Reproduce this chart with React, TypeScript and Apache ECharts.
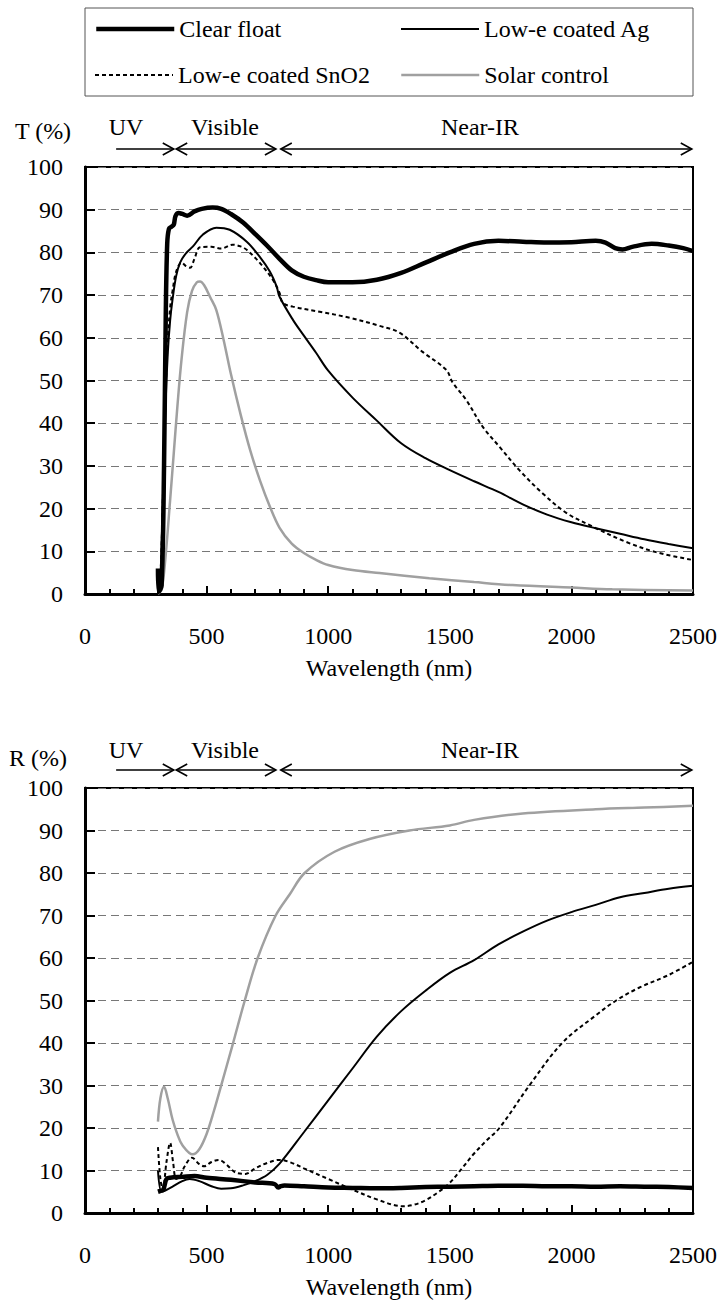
import React, { useEffect, useRef } from "react";
import * as echarts from "echarts";

const FONT = "Liberation Serif";

const NAMES = ["Clear float", "Low-e coated Ag", "Low-e coated SnO2", "Solar control"];

// ---------- Transmittance (top chart) ----------
const T_CLEAR_WL = [300, 303, 315, 325, 332, 338, 345, 355, 365, 372, 385, 400, 420, 450, 480, 525, 560, 600, 650, 700, 750, 800, 850, 900, 950, 1000, 1100, 1200, 1300, 1400, 1500, 1600, 1700, 1800, 1900, 2000, 2100, 2140, 2180, 2210, 2250, 2330, 2400, 2460, 2500];
const T_CLEAR = [6, 0.5, 2, 30, 65, 82, 85.5, 86, 86.5, 88.5, 89.2, 89, 88.6, 89.6, 90.2, 90.5, 90.2, 89, 87, 84.3, 81.5, 78.5, 75.8, 74.3, 73.5, 73, 73, 73.6, 75.2, 77.6, 80, 82, 82.7, 82.5, 82.3, 82.4, 82.7, 82.3, 81, 80.7, 81.3, 82, 81.6, 81, 80.3];

const T_AG_WL = [300, 310, 320, 330, 340, 350, 360, 375, 391, 415, 444, 485, 540, 595, 665, 718, 760, 788, 800, 855, 900, 950, 1000, 1100, 1200, 1300, 1400, 1500, 1600, 1700, 1800, 1900, 2000, 2100, 2200, 2300, 2400, 2500];
const T_AG = [0, 4, 22, 42, 56, 64, 69, 74.5, 77.6, 79.8, 81.4, 84.2, 85.8, 85.3, 82.5, 79, 75.5, 72, 69.6, 64.2, 60.5, 56.5, 52.3, 46, 40.6, 35.3, 31.8, 29, 26.4, 23.9, 21, 18.6, 16.8, 15.4, 14.1, 12.8, 11.7, 10.7];

const T_SNO2_WL = [300, 310, 320, 330, 340, 350, 360, 375, 397, 415, 432, 450, 473, 520, 560, 607, 640, 665, 718, 772, 800, 813, 855, 965, 1088, 1211, 1293, 1388, 1485, 1512, 1567, 1635, 1704, 1786, 1881, 1979, 2087, 2225, 2348, 2496];
const T_SNO2 = [0, 4, 22, 44, 59, 67, 71, 75.5, 77.6, 76.8, 76.4, 78.5, 81.2, 81.3, 80.9, 81.8, 81.4, 80.6, 77.6, 73.6, 70.5, 68.2, 67.3, 66.1, 64.7, 62.8, 61.2, 56.7, 52.5, 49.5, 45.5, 39.2, 34.5, 29, 23.6, 19, 15.8, 12.2, 9.8, 8];

const T_SOLAR_WL = [300, 315, 330, 350, 365, 380, 397, 420, 440, 460, 473, 490, 515, 540, 570, 600, 640, 680, 720, 760, 800, 850, 900, 950, 1000, 1100, 1211, 1416, 1600, 1758, 2000, 2168, 2500];
const T_SOLAR = [0, 1, 8, 22, 33, 44, 55, 66, 71, 73, 73.2, 72.3, 69.5, 66.5, 59.5, 51.5, 42, 33.5, 26.5, 20.5, 15.5, 11.8, 9.6, 8, 6.8, 5.6, 4.9, 3.7, 2.8, 2.1, 1.5, 1.1, 0.8];

// ---------- Reflectance (bottom chart) ----------
const R_CLEAR_WL = [300, 310, 322, 335, 350, 400, 450, 500, 600, 700, 780, 795, 805, 820, 900, 1000, 1100, 1200, 1300, 1400, 1500, 1600, 1700, 1800, 1900, 2000, 2100, 2200, 2300, 2400, 2500];
const R_CLEAR = [5, 5.2, 5.5, 8, 8.3, 8.5, 8.7, 8.3, 7.8, 7.2, 6.8, 6.0, 6.3, 6.5, 6.3, 6.0, 5.9, 5.8, 5.9, 6.1, 6.2, 6.3, 6.4, 6.4, 6.3, 6.3, 6.2, 6.3, 6.2, 6.1, 5.9];

const R_AG_WL = [300, 315, 330, 360, 400, 430, 470, 520, 560, 600, 650, 700, 750, 800, 900, 1000, 1100, 1200, 1300, 1400, 1500, 1600, 1700, 1800, 1900, 2000, 2100, 2200, 2300, 2400, 2500];
const R_AG = [10, 5, 5.3, 6.2, 7.5, 8, 7.5, 6.3, 5.7, 5.8, 6.5, 7.5, 9, 11.6, 19, 26.5, 34, 41.5, 47.5, 52.3, 56.5, 59.5, 63.2, 66.2, 68.8, 70.8, 72.5, 74.3, 75.3, 76.3, 77];

const R_SNO2_WL = [300, 310, 320, 335, 350, 362, 375, 390, 410, 440, 470, 490, 520, 550, 580, 620, 660, 700, 750, 800, 850, 900, 1000, 1100, 1200, 1306, 1350, 1400, 1450, 1498, 1550, 1600, 1650, 1704, 1827, 1962, 2100, 2184, 2278, 2400, 2496];
const R_SNO2 = [15.5, 8, 5.5, 12, 16.5, 12, 8, 8.5, 11, 13, 11.5, 11, 12, 12.5, 11.5, 9.5, 9.2, 10.5, 11.8, 12.5, 11.8, 10.5, 8, 5.5, 3.2, 1.6, 1.9, 3, 4.8, 7, 10.5, 14, 17, 20, 30, 40, 46.5, 50, 53, 56, 59];

const R_SOLAR_WL = [300, 310, 325, 340, 360, 380, 400, 443, 470, 500, 530, 554, 608, 657, 710, 784, 842, 903, 1026, 1170, 1334, 1500, 1600, 1800, 2100, 2300, 2500];
const R_SOLAR = [21.5, 27, 29.7, 27, 22, 18.5, 16, 13.8, 15, 18.6, 24, 28.8, 39.8, 50, 60, 70, 75, 80, 85, 88, 90, 91.2, 92.5, 94, 95, 95.4, 95.8];

// ---------- layout ----------
const GRID_LEFT = 85;
const GRID_RIGHT = 30;
const PLOT_W = 723 - GRID_LEFT - GRID_RIGHT;
const G1_TOP = 167;
const G1_H = 427;
const G2_TOP = 788;
const G2_H = 425;

const STYLES: Record<string, any> = {
  "Clear float": { color: "#000", width: 4.5, type: "solid" },
  "Low-e coated Ag": { color: "#000", width: 2, type: "solid" },
  "Low-e coated SnO2": { color: "#000", width: 2, type: [4, 3] },
  "Solar control": { color: "#a0a0a0", width: 2.5, type: "solid" },
};

const pairs = (wl: number[], v: number[]) => wl.map((w, i) => [w, v[i]]);

function makeSeries(name: string, data: number[][], idx: number) {
  const s = STYLES[name];
  return {
    type: "line",
    name,
    data,
    xAxisIndex: idx,
    yAxisIndex: idx,
    symbol: "none",
    smooth: 0.35,
    color: s.color,
    lineStyle: { color: s.color, width: s.width, type: s.type },
    z: name === "Clear float" ? 4 : 3,
  };
}

const textBase = { fontFamily: FONT, color: "#000" };

function makeX(idx: number) {
  return {
    type: "value",
    gridIndex: idx,
    min: 0,
    max: 2500,
    interval: 500,
    axisLine: { show: true, lineStyle: { color: "#000", width: 3 } },
    axisTick: { show: true, inside: true, length: 8, lineStyle: { color: "#000", width: 2 } },
    minorTick: { show: true, splitNumber: 5, length: 5, lineStyle: { color: "#000", width: 2 } },
    axisLabel: { margin: 30, fontSize: 24, ...textBase, formatter: (v: number) => String(v) },
    splitLine: { show: false },
    name: "Wavelength (nm)",
    nameLocation: "middle",
    nameGap: 62,
    nameTextStyle: { fontSize: 24, ...textBase },
  };
}

function makeY(idx: number) {
  return {
    type: "value",
    gridIndex: idx,
    min: 0,
    max: 100,
    interval: 10,
    axisLine: { show: true, lineStyle: { color: "#000", width: 3 } },
    axisTick: { show: true, inside: true, length: 10, lineStyle: { color: "#000", width: 2 } },
    axisLabel: { margin: 22, fontSize: 24, ...textBase, formatter: (v: number) => String(v) },
    splitLine: { show: true, lineStyle: { color: "#777", width: 1, type: [8, 5] } },
  };
}

const xPx = (wl: number) => GRID_LEFT + (wl / 2500) * PLOT_W;

function txt(text: string, x: number, y: number, size = 24) {
  return {
    type: "text",
    x,
    y,
    silent: true,
    style: {
      text,
      fill: "#000",
      fontFamily: FONT,
      fontSize: size,
      align: "center",
      verticalAlign: "middle",
    },
  };
}

function arrow(x1: number, x2: number, y: number, headLeft: boolean, headRight: boolean) {
  const st = { stroke: "#000", lineWidth: 1.6, fill: "none" };
  const els: any[] = [{ type: "line", silent: true, shape: { x1, y1: y, x2, y2: y }, style: st }];
  if (headRight)
    els.push({ type: "polyline", silent: true, shape: { points: [[x2 - 11, y - 6], [x2, y], [x2 - 11, y + 6]] }, style: st });
  if (headLeft)
    els.push({ type: "polyline", silent: true, shape: { points: [[x1 + 11, y - 6], [x1, y], [x1 + 11, y + 6]] }, style: st });
  return els;
}

function regionAnnot(labelY: number, arrowY: number, axisLabel: string, axisLabelX: number, axisLabelY: number) {
  return [
    txt(axisLabel, axisLabelX, axisLabelY),
    txt("UV", 126, labelY),
    txt("Visible", 225, labelY),
    txt("Near-IR", 480, labelY),
    ...arrow(xPx(128), xPx(365), arrowY, false, true),
    ...arrow(xPx(375), xPx(785), arrowY, true, true),
    ...arrow(xPx(805), xPx(2495), arrowY, true, true),
  ];
}

function legendFor(name: string, left: number, top: number) {
  return {
    data: [name],
    left,
    top,
    padding: 0,
    itemWidth: 78,
    itemHeight: 14,
    textStyle: { fontSize: 24, ...textBase },
    lineStyle: { width: STYLES[name].width },
    itemStyle: { opacity: 0, borderWidth: 0, color: "rgba(0,0,0,0)" },
  };
}

export default function App() {
  const ref = useRef<HTMLDivElement>(null);
  useEffect(() => {
    if (!ref.current) return;
    const chart = echarts.init(ref.current, undefined, { renderer: "svg" });
    const option = {
      animation: false,
      backgroundColor: "#fff",
      textStyle: { fontFamily: FONT },
      grid: [
        { left: GRID_LEFT, right: GRID_RIGHT, top: G1_TOP, height: G1_H, show: true, borderColor: "#000", borderWidth: 2 },
        { left: GRID_LEFT, right: GRID_RIGHT, top: G2_TOP, height: G2_H, show: true, borderColor: "#000", borderWidth: 2 },
      ],
      xAxis: [makeX(0), makeX(1)],
      yAxis: [makeY(0), makeY(1)],
      legend: [
        legendFor(NAMES[0], 94, 17),
        legendFor(NAMES[1], 400, 17),
        legendFor(NAMES[2], 94, 63),
        legendFor(NAMES[3], 400, 63),
      ],
      graphic: [
        {
          type: "rect",
          silent: true,
          shape: { x: 85, y: 8, width: 608, height: 88 },
          style: { fill: "none", stroke: "#555", lineWidth: 1 },
        },
        ...regionAnnot(127, 149, "T (%)", 43, 131),
        ...regionAnnot(750, 770, "R (%)", 38, 758),
      ],
      series: [
        makeSeries(NAMES[3], pairs(T_SOLAR_WL, T_SOLAR), 0),
        makeSeries(NAMES[2], pairs(T_SNO2_WL, T_SNO2), 0),
        makeSeries(NAMES[1], pairs(T_AG_WL, T_AG), 0),
        makeSeries(NAMES[0], pairs(T_CLEAR_WL, T_CLEAR), 0),
        makeSeries(NAMES[3], pairs(R_SOLAR_WL, R_SOLAR), 1),
        makeSeries(NAMES[2], pairs(R_SNO2_WL, R_SNO2), 1),
        makeSeries(NAMES[1], pairs(R_AG_WL, R_AG), 1),
        makeSeries(NAMES[0], pairs(R_CLEAR_WL, R_CLEAR), 1),
      ],
    };
    chart.setOption(option as any);
    return () => chart.dispose();
  }, []);
  return <div ref={ref} style={{ position: "absolute", left: 0, top: 0, width: 723, height: 1312 }} />;
}
